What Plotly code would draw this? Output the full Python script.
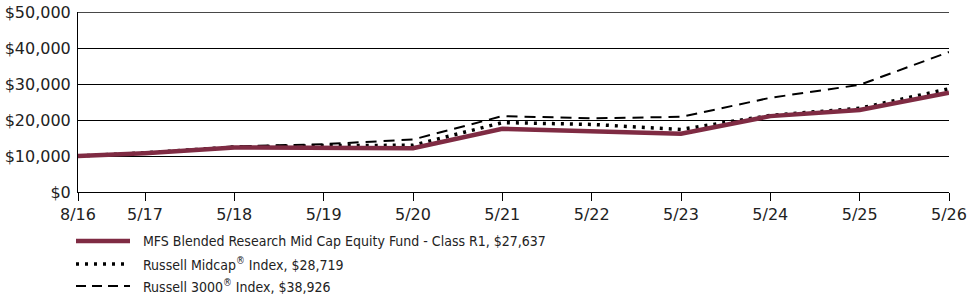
import plotly.graph_objects as go

# Months since 8/16
x_months = [0, 9, 21, 33, 45, 57, 69, 81, 93, 105, 117]
tick_labels = ["8/16", "5/17", "5/18", "5/19", "5/20", "5/21", "5/22", "5/23", "5/24", "5/25", "5/26"]

fund = [10000, 10800, 12400, 12200, 12200, 17600, 17000, 16200, 21100, 22800, 27637]
midcap = [10000, 10900, 12500, 12900, 13000, 19300, 18800, 17400, 21300, 23300, 28719]
r3000 = [10000, 10900, 12700, 13300, 14600, 21100, 20500, 20900, 26200, 29800, 38926]

y_ticks = [0, 10000, 20000, 30000, 40000, 50000]
y_tick_labels = ["$0", "$10,000", "$20,000", "$30,000", "$40,000", "$50,000"]

legend_names = [
    "MFS Blended Research Mid Cap Equity Fund - Class R1, $27,637",
    "Russell Midcap<sup>®</sup> Index, $28,719",
    "Russell 3000<sup>®</sup> Index, $38,926",
]

FUND_COLOR = "#7f2b43"
FONT = "DejaVu Sans"
LEG_FONT = "DejaVu Sans Condensed, Liberation Sans Narrow, DejaVu Sans"

fig = go.Figure()
fig.add_trace(go.Scatter(x=x_months, y=r3000, mode="lines",
                         line=dict(color="black", width=2, dash="11px,7px"),
                         showlegend=False))
fig.add_trace(go.Scatter(x=x_months, y=midcap, mode="lines",
                         line=dict(color="black", width=3.5, dash="3px,6px"),
                         showlegend=False))
fig.add_trace(go.Scatter(x=x_months, y=fund, mode="lines",
                         line=dict(color=FUND_COLOR, width=4.5),
                         showlegend=False))

L, R, T, B = 78, 26, 12, 112
W, H = 975, 304
pw = W - L - R
ph = H - T - B

def px_x(p):
    return (p - L) / pw

def px_y(p):
    return (T + ph - p) / ph

rows_y = [241, 264, 286]
styles = [
    dict(color=FUND_COLOR, width=4.5),
    dict(color="black", width=3.5, dash="3px,6px"),
    dict(color="black", width=2, dash="10px,6px"),
]
shapes = [
    # top gridline at the upper end of the y range
    dict(type="line", xref="paper", yref="y", x0=0, x1=1,
         y0=y_ticks[-1], y1=y_ticks[-1], line=dict(color="black", width=1), layer="below"),
]
annotations = []
for yy, st, name in zip(rows_y, styles, legend_names):
    shapes.append(dict(type="line", xref="paper", yref="paper",
                       x0=px_x(76), x1=px_x(130), y0=px_y(yy), y1=px_y(yy),
                       line=st))
    annotations.append(dict(xref="paper", yref="paper", x=px_x(141), y=px_y(yy),
                            text=name, showarrow=False, xanchor="left", yanchor="middle",
                            font=dict(family=LEG_FONT, size=14, color="#222")))

fig.update_layout(
    width=W, height=H,
    margin=dict(l=L, r=R, t=T, b=B, autoexpand=False),
    paper_bgcolor="white", plot_bgcolor="white",
    font=dict(family=FONT, size=16, color="#222"),
    xaxis=dict(range=[0, 117], tickvals=x_months, ticktext=tick_labels,
               showgrid=False, zeroline=False, showline=True, linecolor="black",
               linewidth=1, ticks="outside", ticklen=8, tickcolor="black",
               automargin=False),
    yaxis=dict(range=[0, 50060], tickvals=y_ticks, ticktext=y_tick_labels,
               showgrid=True, gridcolor="black", gridwidth=1, zeroline=False,
               showline=True, linecolor="black", linewidth=1, ticks="",
               ticklabelstandoff=3, automargin=False),
    shapes=shapes, annotations=annotations,
)

fig.write_html("out.html")
